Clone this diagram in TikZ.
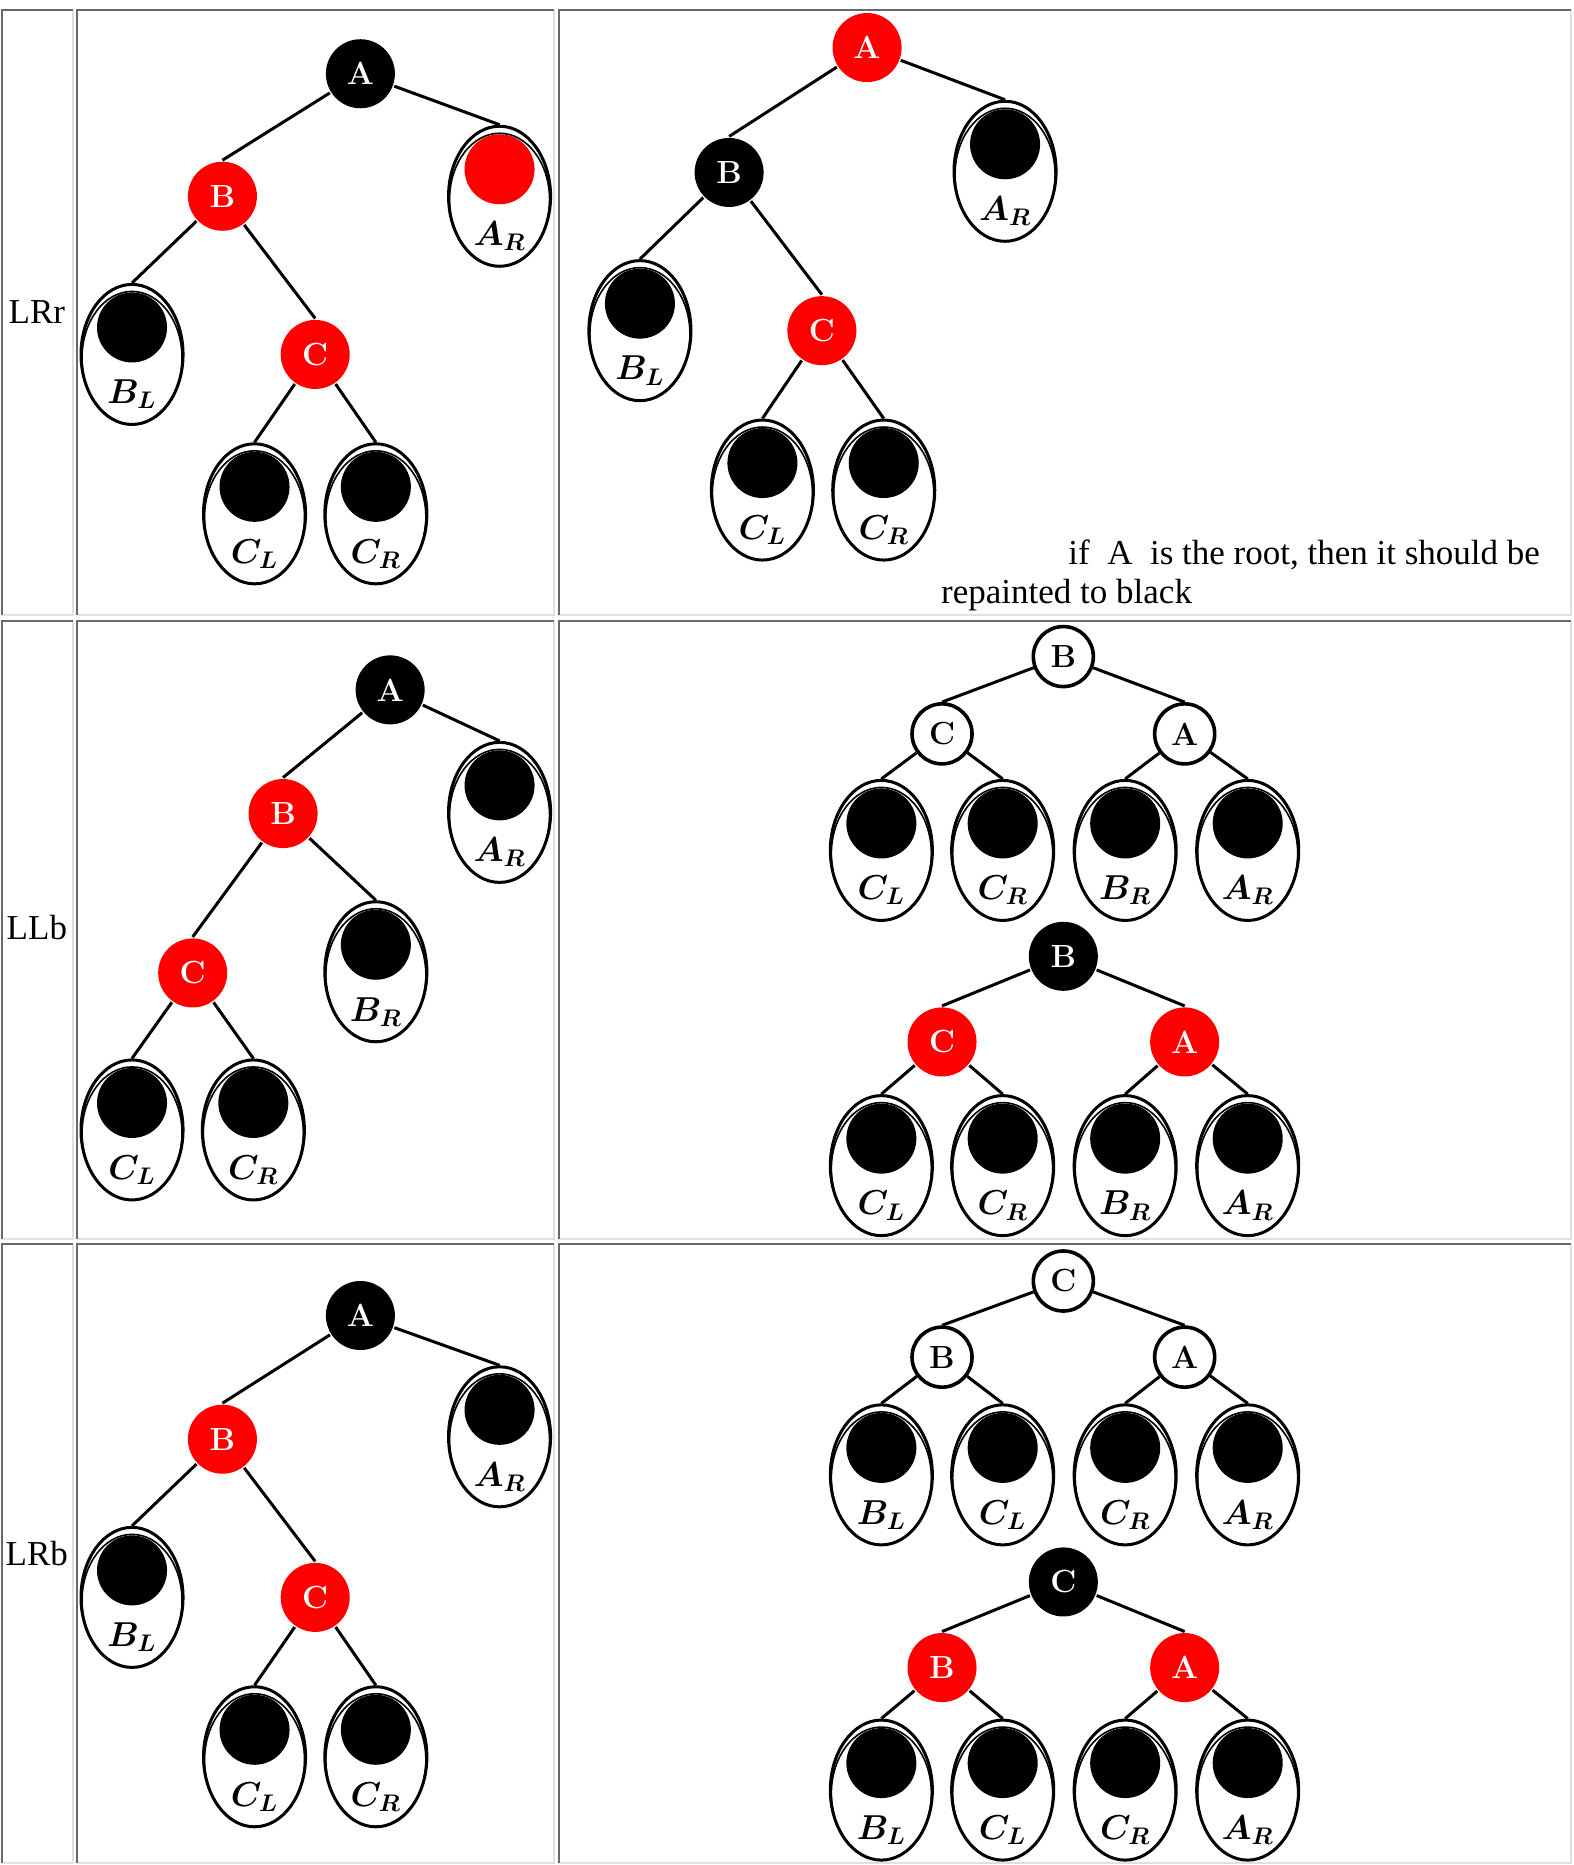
\documentclass[tikz,border=0pt]{standalone}
\usepackage{fontspec}
\newfontfamily\timesfont{Liberation Serif}
\usetikzlibrary{shapes.geometric}

\begin{document}
\begin{tikzpicture}[x=0.5945pt, y=-0.5945pt, line width=1.5pt,
    nd/.style={circle, inner sep=0pt, minimum size=34.5pt, font=\fontsize{16}{16}\selectfont\bfseries},
    redn/.style={nd, fill=red, text=white},
    blackn/.style={nd, fill=black, text=white},
    whiten/.style={nd, draw, fill=white, line width=1.8pt, minimum size=30pt},
    subtree/.style={ellipse, draw, line width=1.5pt, inner sep=0pt, minimum width=51pt, minimum height=70pt,
        path picture={
            \fill[#1] ([yshift=13.5pt]path picture bounding box.center) circle (17.5pt);
            \draw[line width=0.8pt] ([yshift=-1.75pt]path picture bounding box.center) ellipse (25pt and 33.25pt);}},
    subtree/.default=black,
    lab/.style={label={[yshift=-20pt, font=\fontsize{17}{17}\selectfont\boldmath]center:$#1$}},
    txt/.style={font=\timesfont\fontsize{17.5}{20}\selectfont, inner sep=0pt},
    darkedge/.style={draw=black!59, line width=1pt},
    lightedge/.style={draw=black!12, line width=1pt}]
    \useasboundingbox (0,0) rectangle (1323,1568);
    % table
    \foreach \xa/\xb in {2/61, 65.1/465.5, 469.7/1321}
        \foreach \ya/\yb in {8/516.8, 521.8/1042, 1045.5/1566.5}{
            \draw[lightedge] (\xa,\yb) -| (\xb,\ya);
            \draw[darkedge] (\xa,\yb) |- (\xb,\ya);
        }
    \node[txt] (lrr) at (31,262) {LRr};
    \node[txt] (llb) at (31,780) {LLb};
    \node[txt] (lrb) at (31,1306) {LRb};
    % LRr
    \node[blackn] (a1) at (303,62) {A};
    \node[redn] (b1) at (187,165) {B};
    \node[redn] (c1) at (265,298) {C};
    \node[subtree=red, lab=A_R] (ar1) at (420,165) {};
    \node[subtree, lab=B_L] (bl1) at (111,298) {};
    \node[subtree, lab=C_L] (cl1) at (214,432) {};
    \node[subtree, lab=C_R] (cr1) at (316,432) {};
    \draw (a1) -- (b1.north) (a1) -- (ar1.north) (b1) -- (bl1.north) (b1) -- (c1.north)
        (c1) -- (cl1.north) (c1) -- (cr1.north);
    \node[redn] (a2) at (729,40) {A};
    \node[blackn] (b2) at (613,145) {B};
    \node[redn] (c2) at (691,278) {C};
    \node[subtree, lab=A_R] (ar2) at (845,144) {};
    \node[subtree, lab=B_L] (bl2) at (538,278) {};
    \node[subtree, lab=C_L] (cl2) at (641,412) {};
    \node[subtree, lab=C_R] (cr2) at (743,412) {};
    \draw (a2) -- (b2.north) (a2) -- (ar2.north) (b2) -- (bl2.north) (b2) -- (c2.north)
        (c2) -- (cl2.north) (c2) -- (cr2.north);
    \node[txt, anchor=base east] (note1) at (1296,474.5) {if~~A~~is the root, then it should be};
    \node[txt, anchor=base west] (note2) at (790,507) {repainted to black};
    % LLb
    \node[blackn] (a3) at (328,580) {A};
    \node[redn] (b3) at (238,684) {B};
    \node[redn] (c3) at (162,818) {C};
    \node[subtree, lab=A_R] (ar3) at (420,683) {};
    \node[subtree, lab=B_R] (br3) at (316,817) {};
    \node[subtree, lab=C_L] (cl3) at (111,950) {};
    \node[subtree, lab=C_R] (cr3) at (213,950) {};
    \draw (a3) -- (b3.north) (a3) -- (ar3.north) (b3) -- (c3.north) (b3) -- (br3.north)
        (c3) -- (cl3.north) (c3) -- (cr3.north);
    \node[whiten] (b4) at (894,552) {B};
    \node[whiten] (c4) at (792,617) {C};
    \node[whiten] (a4) at (996,617) {A};
    \foreach \x/\t [count=\i] in {741/C_L, 843/C_R, 946/B_R, 1049/A_R}
        \node[subtree, lab=\t] (s4\i) at (\x,715) {};
    \draw (b4) -- (c4.north) (b4) -- (a4.north) (c4) -- (s41.north) (c4) -- (s42.north)
        (a4) -- (s43.north) (a4) -- (s44.north);
    \node[blackn] (b5) at (894,804) {B};
    \node[redn] (c5) at (792,876) {C};
    \node[redn] (a5) at (996,876) {A};
    \foreach \x/\t [count=\i] in {741/C_L, 843/C_R, 946/B_R, 1049/A_R}
        \node[subtree, lab=\t] (s5\i) at (\x,980) {};
    \draw (b5) -- (c5.north) (b5) -- (a5.north) (c5) -- (s51.north) (c5) -- (s52.north)
        (a5) -- (s53.north) (a5) -- (s54.north);
    % LRb
    \node[blackn] (a6) at (303,1106) {A};
    \node[redn] (b6) at (187,1210) {B};
    \node[redn] (c6) at (265,1343) {C};
    \node[subtree, lab=A_R] (ar6) at (420,1208) {};
    \node[subtree, lab=B_L] (bl6) at (111,1343) {};
    \node[subtree, lab=C_L] (cl6) at (214,1477) {};
    \node[subtree, lab=C_R] (cr6) at (316,1477) {};
    \draw (a6) -- (b6.north) (a6) -- (ar6.north) (b6) -- (bl6.north) (b6) -- (c6.north)
        (c6) -- (cl6.north) (c6) -- (cr6.north);
    \node[whiten] (c7) at (894,1077) {C};
    \node[whiten] (b7) at (792,1141) {B};
    \node[whiten] (a7) at (996,1141) {A};
    \foreach \x/\t [count=\i] in {741/B_L, 843/C_L, 946/C_R, 1049/A_R}
        \node[subtree, lab=\t] (s7\i) at (\x,1240) {};
    \draw (c7) -- (b7.north) (c7) -- (a7.north) (b7) -- (s71.north) (b7) -- (s72.north)
        (a7) -- (s73.north) (a7) -- (s74.north);
    \node[blackn] (c8) at (894,1330) {C};
    \node[redn] (b8) at (792,1402) {B};
    \node[redn] (a8) at (996,1402) {A};
    \foreach \x/\t [count=\i] in {741/B_L, 843/C_L, 946/C_R, 1049/A_R}
        \node[subtree, lab=\t] (s8\i) at (\x,1505) {};
    \draw (c8) -- (b8.north) (c8) -- (a8.north) (b8) -- (s81.north) (b8) -- (s82.north)
        (a8) -- (s83.north) (a8) -- (s84.north);
\end{tikzpicture}
\end{document}
